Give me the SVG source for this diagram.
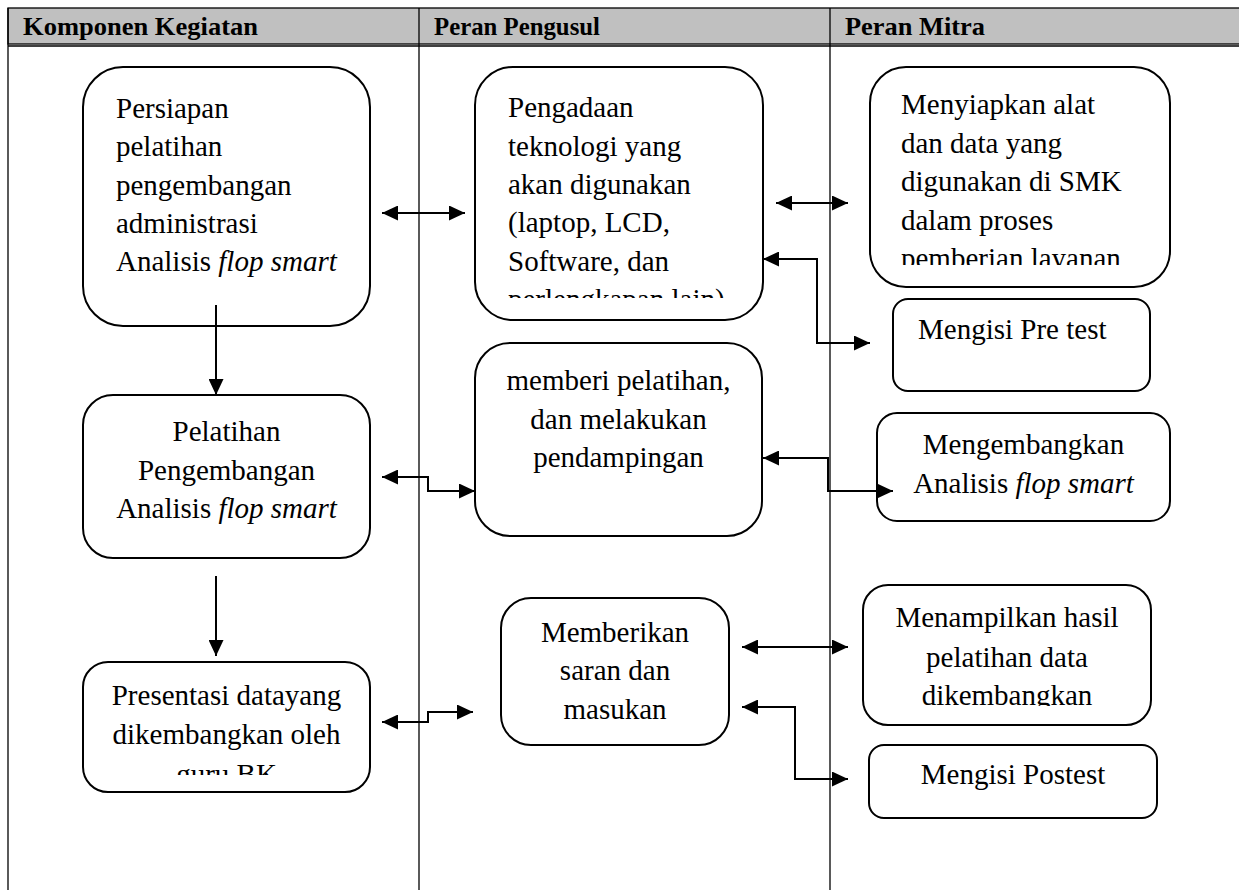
<svg xmlns="http://www.w3.org/2000/svg" width="1239" height="890" viewBox="0 0 1239 890">
<style>
.tbl{stroke:#000;stroke-width:1.3;fill:none}
.hdr{font-family:"Liberation Serif","Times New Roman",serif;font-weight:bold;font-size:26px;fill:#000}
.box{fill:#fff;stroke:#000;stroke-width:2}
.t{font-family:"Liberation Serif","Times New Roman",serif;font-size:29px;fill:#000}
.c{text-anchor:middle}
.i{font-style:italic}
.con{fill:none;stroke:#000;stroke-width:2}
</style>
<defs>
<marker id="ah" viewBox="0 0 16 15" refX="16" refY="7.5" markerWidth="16" markerHeight="15" markerUnits="userSpaceOnUse" orient="auto-start-reverse">
<path d="M0,0 L16,7.5 L0,15 Z" fill="#000"/>
</marker>
<clipPath id="clipD"><rect x="470" y="60" width="300" height="238"/></clipPath>
<clipPath id="clipG"><rect x="865" y="60" width="310" height="205"/></clipPath>
<clipPath id="clipC"><rect x="80" y="655" width="295" height="120"/></clipPath>
<clipPath id="clipJ"><rect x="860" y="580" width="295" height="126"/></clipPath>
</defs>
<rect width="1239" height="890" fill="#fff"/>
<g id="table">
<rect x="8" y="8" width="1240" height="36" fill="#c0c0c0" stroke="#000" stroke-width="1.3"/>
<line class="tbl" x1="8" y1="46" x2="1239" y2="46"/>
<line class="tbl" x1="8" y1="8" x2="8" y2="890"/>
<line class="tbl" x1="419" y1="8" x2="419" y2="890"/>
<line class="tbl" x1="830" y1="8" x2="830" y2="890"/>
<text class="hdr" x="23" y="34.5" textLength="235" lengthAdjust="spacingAndGlyphs">Komponen Kegiatan</text>
<text class="hdr" x="434" y="34.5" textLength="166" lengthAdjust="spacingAndGlyphs">Peran Pengusul</text>
<text class="hdr" x="845" y="34.5" textLength="140" lengthAdjust="spacingAndGlyphs">Peran Mitra</text>
</g>
<g id="nodeA">
<rect class="box" x="83" y="67" width="287" height="259" rx="40"/>
<text class="t" x="116" y="117.5">Persiapan</text>
<text class="t" x="116" y="156">pelatihan</text>
<text class="t" x="116" y="194.5">pengembangan</text>
<text class="t" x="116" y="233">administrasi</text>
<text class="t" x="116" y="271">Analisis <tspan class="i">flop smart</tspan></text>
</g>
<g id="nodeB">
<rect class="box" x="83" y="395" width="287" height="163" rx="30"/>
<text class="t c" x="226.5" y="441">Pelatihan</text>
<text class="t c" x="226.5" y="479.5">Pengembangan</text>
<text class="t c" x="226.5" y="518">Analisis <tspan class="i">flop smart</tspan></text>
</g>
<g id="nodeC">
<rect class="box" x="83" y="662" width="287" height="130" rx="25"/>
<g clip-path="url(#clipC)">
<text class="t c" x="226.5" y="705">Presentasi datayang</text>
<text class="t c" x="226.5" y="743.5">dikembangkan oleh</text>
<text class="t c" x="226.5" y="784">guru BK</text>
</g>
</g>
<g id="nodeD">
<rect class="box" x="475" y="67" width="288" height="253" rx="38"/>
<g clip-path="url(#clipD)">
<text class="t" x="508" y="117">Pengadaan</text>
<text class="t" x="508" y="155.5">teknologi yang</text>
<text class="t" x="508" y="194">akan digunakan</text>
<text class="t" x="508" y="232">(laptop, LCD,</text>
<text class="t" x="508" y="270.5">Software, dan</text>
<text class="t" x="508" y="309">perlengkapan lain)</text>
</g>
</g>
<g id="nodeE">
<rect class="box" x="475" y="343" width="287" height="193" rx="35"/>
<text class="t c" x="618.5" y="390">memberi pelatihan,</text>
<text class="t c" x="618.5" y="428.5">dan melakukan</text>
<text class="t c" x="618.5" y="467">pendampingan</text>
</g>
<g id="nodeF">
<rect class="box" x="501" y="598" width="228" height="147" rx="30"/>
<text class="t c" x="615" y="642">Memberikan</text>
<text class="t c" x="615" y="680">saran dan</text>
<text class="t c" x="615" y="718.5">masukan</text>
</g>
<g id="nodeG">
<rect class="box" x="870" y="67" width="300" height="220" rx="36"/>
<g clip-path="url(#clipG)">
<text class="t" x="901" y="114">Menyiapkan alat</text>
<text class="t" x="901" y="152.5">dan data yang</text>
<text class="t" x="901" y="191">digunakan di SMK</text>
<text class="t" x="901" y="229.5">dalam proses</text>
<text class="t" x="901" y="268">pemberian layanan</text>
</g>
</g>
<g id="nodeH">
<rect class="box" x="893" y="299" width="257" height="92" rx="15"/>
<text class="t" x="918" y="338.5">Mengisi Pre test</text>
</g>
<g id="nodeI">
<rect class="box" x="877" y="413" width="293" height="108" rx="20"/>
<text class="t c" x="1023.5" y="454">Mengembangkan</text>
<text class="t c" x="1023.5" y="493">Analisis <tspan class="i">flop smart</tspan></text>
</g>
<g id="nodeJ">
<rect class="box" x="863" y="585" width="288" height="140" rx="25"/>
<g clip-path="url(#clipJ)">
<text class="t c" x="1007" y="627">Menampilkan hasil</text>
<text class="t c" x="1007" y="666.5">pelatihan data</text>
<text class="t c" x="1007" y="705">dikembangkan</text>
</g>
</g>
<g id="nodeK">
<rect class="box" x="869" y="745" width="288" height="73" rx="15"/>
<text class="t c" x="1013" y="783.5">Mengisi Postest</text>
</g>
<g id="connectors">
<line class="con" x1="216" y1="305" x2="216" y2="395" marker-end="url(#ah)"/>
<line class="con" x1="216" y1="576" x2="216" y2="656" marker-end="url(#ah)"/>
<line class="con" x1="382" y1="213" x2="465" y2="213" marker-start="url(#ah)" marker-end="url(#ah)"/>
<line class="con" x1="776" y1="203" x2="848" y2="203" marker-start="url(#ah)" marker-end="url(#ah)"/>
<polyline class="con" points="763,259 817,259 817,343 870,343" marker-start="url(#ah)" marker-end="url(#ah)"/>
<polyline class="con" points="382,477 428,477 428,491 475,491" marker-start="url(#ah)" marker-end="url(#ah)"/>
<polyline class="con" points="763,458 828,458 828,491 893,491" marker-start="url(#ah)" marker-end="url(#ah)"/>
<polyline class="con" points="382,722 428,722 428,712 473,712" marker-start="url(#ah)" marker-end="url(#ah)"/>
<line class="con" x1="742" y1="647" x2="848" y2="647" marker-start="url(#ah)" marker-end="url(#ah)"/>
<polyline class="con" points="742,707 795,707 795,779 848,779" marker-start="url(#ah)" marker-end="url(#ah)"/>
</g>
</svg>
